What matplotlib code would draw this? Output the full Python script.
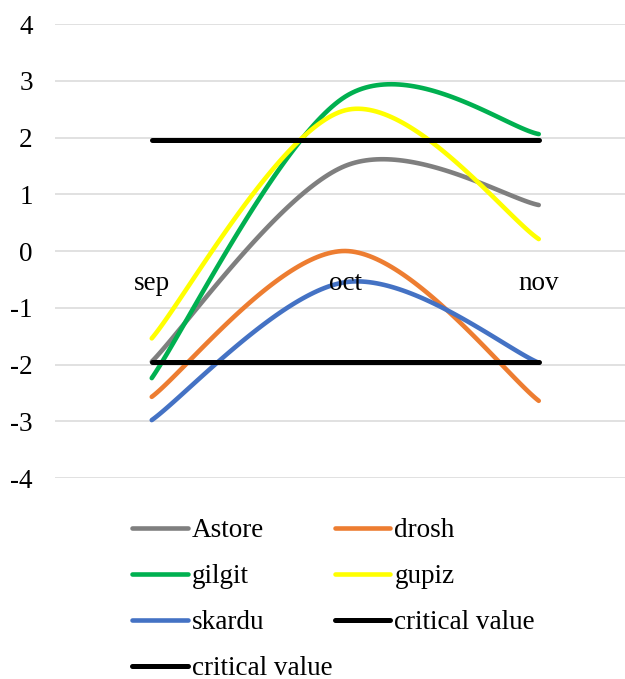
import numpy as np
import matplotlib.pyplot as plt
from matplotlib.lines import Line2D
from matplotlib.ticker import FuncFormatter

plt.rcParams['font.family'] = ['Liberation Serif', 'DejaVu Serif']

# months on the category axis
months = ['sep', 'oct', 'nov']

# z values per station
astore = [-1.95, 1.50, 0.81]
drosh = [-2.57, 0.00, -2.64]
gilgit = [-2.24, 2.72, 2.06]
gupiz = [-1.54, 2.48, 0.21]
skardu = [-2.98, -0.55, -1.97]
crit_hi = [1.96, 1.96, 1.96]
crit_lo = [-1.96, -1.96, -1.96]

series = [
    ('Astore', astore, '#7f7f7f'),
    ('drosh', drosh, '#ed7d31'),
    ('gilgit', gilgit, '#00b050'),
    ('gupiz', gupiz, '#ffff00'),
    ('skardu', skardu, '#4472c4'),
    ('critical value', crit_hi, 'black'),
    ('critical value', crit_lo, 'black'),
]


def smooth(xs, ys, n=60):
    # spreadsheet style smoothed line: cubic bezier per segment
    p = np.column_stack([xs, ys]).astype(float)
    p = np.vstack([p[0], p, p[-1]])
    out = []
    for i in range(1, len(p) - 2):
        p0, p1, p2, p3 = p[i - 1], p[i], p[i + 1], p[i + 2]
        c1 = p1 + (p2 - p0) / 6
        c2 = p2 - (p3 - p1) / 6
        t = np.linspace(0, 1, n)[:, None]
        seg = ((1 - t) ** 3 * p1 + 3 * (1 - t) ** 2 * t * c1
               + 3 * (1 - t) * t ** 2 * c2 + t ** 3 * p2)
        out.append(seg if i == 1 else seg[1:])
    out = np.vstack(out)
    return out[:, 0], out[:, 1]


fig = plt.figure(figsize=(6.25, 6.79), dpi=100)
ax = fig.add_axes([55 / 625, 1 - 478 / 679, 580.5 / 625, 454 / 679])

x = np.arange(len(months))
handles = []
for name, vals, col in series:
    lw = 3.6 if col == 'black' else 3.3
    if col == 'black':
        ax.plot(x, vals, color=col, lw=lw, solid_capstyle='round')
    else:
        sx, sy = smooth(x, vals)
        ax.plot(sx, sy, color=col, lw=lw, solid_capstyle='round')
    handles.append(Line2D([], [], color=col, lw=lw, solid_capstyle='round', label=name))

ax.set_xlim(-0.5, 2.5)
ax.set_ylim(-4, 4)
ax.set_yticks(range(-4, 5))
ax.yaxis.set_major_formatter(FuncFormatter(lambda v, pos: '%d' % v))
ax.grid(axis='y', color='#d9d9d9', lw=1.1)
ax.set_axisbelow(True)
for s in ax.spines.values():
    s.set_visible(False)
ax.tick_params(axis='y', length=0, pad=16, labelsize=19.5)
ax.set_xticks([])

for i, m in enumerate(months):
    ax.annotate(m, (i, 0), xytext=(0, -32), textcoords='offset pixels',
                ha='center', va='center', fontsize=19.5)

# row-wise order in two columns
order = [0, 2, 4, 6, 1, 3, 5]
fig.legend([handles[k] for k in order], [handles[k].get_label() for k in order],
           ncol=2, loc='upper left', bbox_to_anchor=(132 / 625, 1 - 518 / 679),
           frameon=False, fontsize=19.5, borderpad=0, borderaxespad=0,
           handlelength=2.05, handletextpad=0.15, columnspacing=0.1,
           labelspacing=0.78)

fig.savefig('out.png', dpi=100)
